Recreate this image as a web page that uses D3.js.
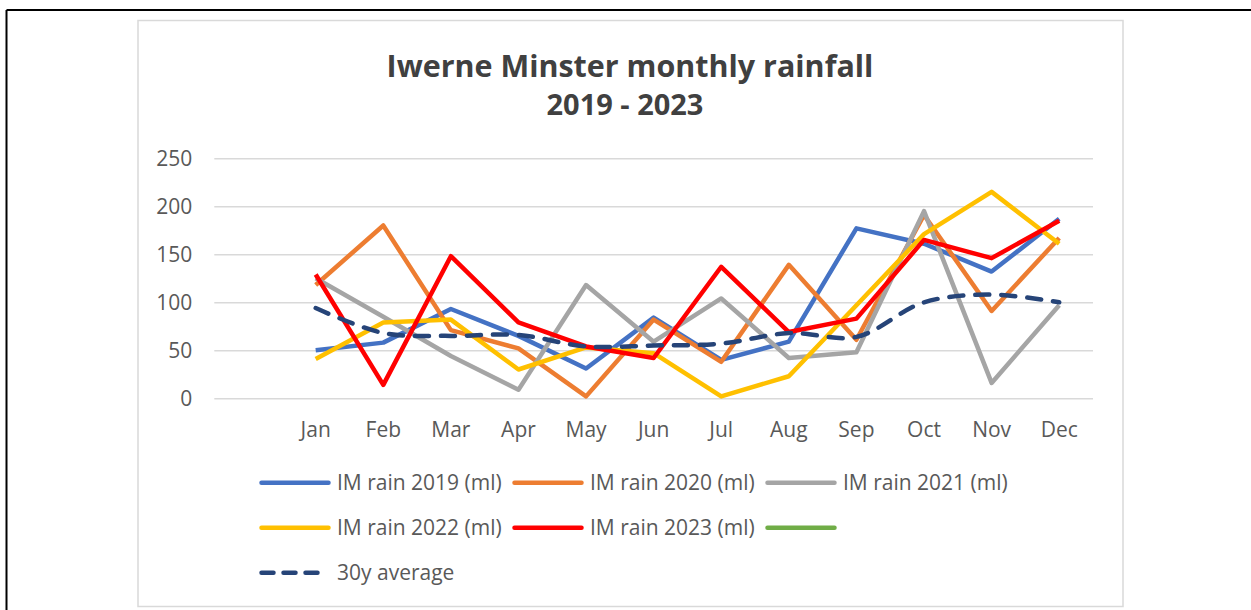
<!DOCTYPE html>
<html>
<head>
<meta charset="utf-8">
<script src="https://cdn.jsdelivr.net/npm/d3@7"></script>
<style>
  html, body { margin: 0; padding: 0; background: #ffffff; }
  svg { display: block; }
  text { font-family: "Open Sans", "Noto Sans", sans-serif; }
</style>
</head>
<body>
<svg id="chart" width="1251" height="610"></svg>
<script>
// ---- data ----
const months = ["Jan","Feb","Mar","Apr","May","Jun","Jul","Aug","Sep","Oct","Nov","Dec"];
const rain2019 = [50, 58, 93, 65, 31, 84, 40, 59, 177, 161, 132, 187];
const rain2020 = [118, 180, 71, 52, 2, 82, 38, 139, 61, 191, 91, 167];
const rain2021 = [125, 85, 44, 9, 118, 59, 104, 42, 48, 195, 16, 97];
const rain2022 = [41, 79, 82, 30, 53, 47, 2, 23, 97, 171, 215, 161];
const rain2023 = [129, 14, 148, 79, 54, 42, 137, 69, 83, 165, 146, 185];
const rainEmpty = [];
const avg30 = [94, 68, 65, 66, 54, 55, 57, 68, 64, 100, 108, 100];
const yTicks = [0, 50, 100, 150, 200, 250];
const seriesNames = ["IM rain 2019 (ml)", "IM rain 2020 (ml)", "IM rain 2021 (ml)",
                     "IM rain 2022 (ml)", "IM rain 2023 (ml)", "", "30y average"];
const titleText = "Iwerne Minster monthly rainfall";
const subtitleText = "2019 - 2023";

const series = [
  {name: seriesNames[0], values: rain2019, color: "#4472C4"},
  {name: seriesNames[1], values: rain2020, color: "#ED7D31"},
  {name: seriesNames[2], values: rain2021, color: "#A5A5A5"},
  {name: seriesNames[3], values: rain2022, color: "#FFC000"},
  {name: seriesNames[4], values: rain2023, color: "#FF0000"},
  {name: seriesNames[5], values: rainEmpty, color: "#70AD47"},
  {name: seriesNames[6], values: avg30, color: "#264478", dashed: true, smooth: true}
];

const svg = d3.select("#chart");

// outer black frame (top & left visible)
svg.append("line").attr("x1", 6.5).attr("x2", 1251).attr("y1", 10).attr("y2", 10)
  .attr("stroke", "#000").attr("stroke-width", 2);
svg.append("line").attr("x1", 6.5).attr("x2", 6.5).attr("y1", 10).attr("y2", 610)
  .attr("stroke", "#000").attr("stroke-width", 2);

// chart area border
svg.append("rect").attr("x", 138).attr("y", 20.5).attr("width", 985).attr("height", 586)
  .attr("fill", "#fff").attr("stroke", "#d9d9d9").attr("stroke-width", 1.5);

// scales (leading blank category, as in the source sheet)
const x = d3.scaleBand().domain([""].concat(months)).range([214.3, 1093]).padding(0);
const xc = m => x(m) + x.bandwidth() / 2;
const y = d3.scaleLinear().domain([0, 250]).range([398.3, 158.3]);

// gridlines + y axis labels
const yAxis = d3.axisLeft(y).tickValues(yTicks).tickSize(-(1093 - 214.3)).tickPadding(22);
const gy = svg.append("g").attr("transform", "translate(214.3,0)").call(yAxis);
gy.select(".domain").remove();
gy.selectAll(".tick line").attr("stroke", "#d9d9d9").attr("stroke-width", 1.5);
gy.selectAll(".tick text").attr("fill", "#595959").style("font-size", "21px")
  .style("font-family", "'Open Sans', sans-serif");

// x axis labels
const xAxis = d3.axisBottom(x).tickValues(months).tickSize(0).tickPadding(24);
const gx = svg.append("g").attr("transform", "translate(0,398.3)").call(xAxis);
gx.select(".domain").remove();
gx.selectAll(".tick text").attr("fill", "#595959").style("font-size", "21px")
  .style("font-family", "'Open Sans', sans-serif");

// lines
series.forEach(s => {
  if (!s.values.length) return;
  const line = d3.line()
    .x((d, i) => xc(months[i]))
    .y(d => y(d))
    .curve(s.smooth ? d3.curveCatmullRom.alpha(0.5) : d3.curveLinear);
  const p = svg.append("path").datum(s.values)
    .attr("d", line).attr("fill", "none")
    .attr("stroke", s.color).attr("stroke-width", 4.5)
    .attr("stroke-linejoin", "round");
  if (s.dashed) p.attr("stroke-dasharray", "14,12").attr("stroke-linecap", "round");
});

// title
function fitText(sel, width) {
  const w = sel.node().getComputedTextLength();
  const fs = parseFloat(sel.style("font-size"));
  sel.style("font-size", (fs * width / w) + "px");
}
const t1 = svg.append("text").attr("x", 630).attr("y", 76.7).attr("text-anchor", "middle")
  .attr("fill", "#404040").style("font-weight", "bold").style("font-size", "32px").text(titleText);
fitText(t1, 487);
const t2 = svg.append("text").attr("x", 625).attr("y", 114.5).attr("text-anchor", "middle")
  .attr("fill", "#404040").style("font-weight", "bold").style("font-size", "26px").text(subtitleText);
fitText(t2, 157);

// legend
const legendX = [259.5, 512.5, 765.5];
const legendY = [482.7, 527.7, 572.7];
series.forEach((s, i) => {
  const col = i === 6 ? 0 : i % 3;
  const row = i === 6 ? 2 : Math.floor(i / 3);
  const g = svg.append("g").attr("transform", `translate(${legendX[col]},${legendY[row]})`);
  const l = g.append("line").attr("x1", 2).attr("x2", s.dashed ? 64 : 69)
    .attr("y1", 0).attr("y2", 0).attr("stroke", s.color).attr("stroke-width", 4.5)
    .attr("stroke-linecap", "round");
  if (s.dashed) l.attr("stroke-dasharray", "12,10");
  if (s.name) {
    const t = g.append("text").attr("x", 77.5).attr("y", 0).attr("dy", "0.35em")
      .attr("fill", "#595959").style("font-size", "21px").text(s.name);
  }
});
</script>
</body>
</html>
